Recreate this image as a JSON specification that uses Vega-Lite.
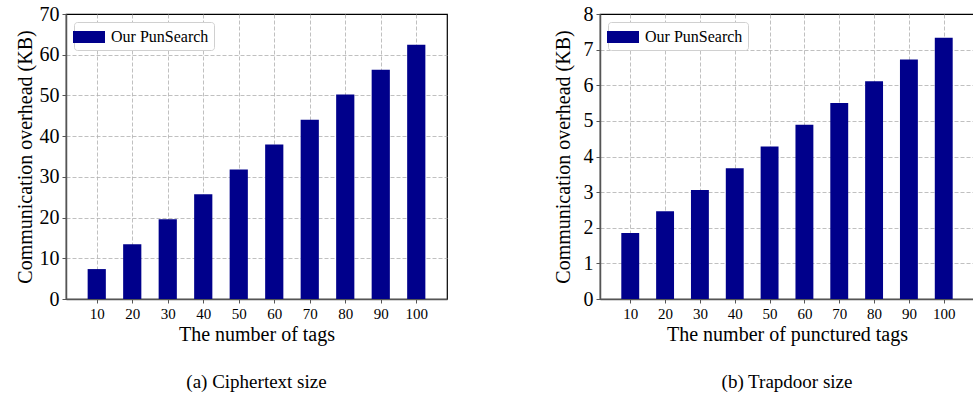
{
  "$schema": "https://vega.github.io/schema/vega-lite/v6.json",
  "background": "white",
  "padding": {"left": 14, "top": 3, "right": 1, "bottom": 0},
  "spacing": 104,
  "config": {
    "font": "Liberation Serif",
    "view": {"stroke": "#000000", "strokeWidth": 1.2},
    "axis": {
      "labelFont": "Liberation Serif",
      "titleFont": "Liberation Serif",
      "labelFontSize": 15,
      "titleFontSize": 20,
      "titleFontWeight": "normal",
      "labelColor": "#000000",
      "titleColor": "#000000",
      "domainColor": "#555555",
      "domainWidth": 1.5,
      "tickColor": "#555555",
      "tickSize": 4,
      "labelPadding": 3,
      "gridColor": "#b0b0b0",
      "gridDash": [4, 2],
      "gridWidth": 0.8,
      "zindex": 1
    },
    "axisY": {"labelFontSize": 20},
    "legend": {
      "labelFont": "Liberation Serif",
      "labelFontSize": 16,
      "labelColor": "#000000"
    },
    "title": {"font": "Liberation Serif", "fontSize": 19, "fontWeight": "normal", "color": "#000000"}
  },
  "hconcat": [
    {
      "width": 381,
      "height": 285,
      "title": {"text": "(a) Ciphertext size", "orient": "bottom", "offset": 29},
      "data": {"values": [
        {"tags": 10, "kb": 7.35, "series": "Our PunSearch"},
        {"tags": 20, "kb": 13.45, "series": "Our PunSearch"},
        {"tags": 30, "kb": 19.6, "series": "Our PunSearch"},
        {"tags": 40, "kb": 25.7, "series": "Our PunSearch"},
        {"tags": 50, "kb": 31.8, "series": "Our PunSearch"},
        {"tags": 60, "kb": 37.95, "series": "Our PunSearch"},
        {"tags": 70, "kb": 44.05, "series": "Our PunSearch"},
        {"tags": 80, "kb": 50.2, "series": "Our PunSearch"},
        {"tags": 90, "kb": 56.3, "series": "Our PunSearch"},
        {"tags": 100, "kb": 62.45, "series": "Our PunSearch"}
      ]},
      "mark": {"type": "bar", "size": 18.2},
      "encoding": {
        "x": {"field": "tags", "type": "quantitative", "scale": {"domain": [2.75, 107.25], "nice": false, "zero": false},
              "axis": {"values": [10, 20, 30, 40, 50, 60, 70, 80, 90, 100], "title": "The number of tags", "titlePadding": 3}},
        "y": {"field": "kb", "type": "quantitative", "scale": {"domain": [0, 70], "nice": false},
              "axis": {"values": [0, 10, 20, 30, 40, 50, 60, 70], "title": "Communication overhead (KB)", "titlePadding": 4,
                       "gridOpacity": {"condition": {"test": "datum.value === 70", "value": 0}, "value": 1}}},
        "color": {"field": "series", "type": "nominal", "scale": {"range": ["#00008b"]},
                  "legend": {"title": null, "orient": "top-left", "offset": 8, "padding": 5, "strokeColor": "#d0d0d0", "fillColor": "white", "cornerRadius": 3,
                             "symbolType": "M-1.6,-0.6L1.6,-0.6L1.6,0.6L-1.6,0.6Z", "symbolSize": 400, "symbolStrokeWidth": 0, "labelOffset": 12}}
      }
    },
    {
      "width": 374,
      "height": 285,
      "title": {"text": "(b) Trapdoor size", "orient": "bottom", "offset": 29},
      "data": {"values": [
        {"tags": 10, "kb": 1.85, "series": "Our PunSearch"},
        {"tags": 20, "kb": 2.46, "series": "Our PunSearch"},
        {"tags": 30, "kb": 3.06, "series": "Our PunSearch"},
        {"tags": 40, "kb": 3.67, "series": "Our PunSearch"},
        {"tags": 50, "kb": 4.28, "series": "Our PunSearch"},
        {"tags": 60, "kb": 4.89, "series": "Our PunSearch"},
        {"tags": 70, "kb": 5.5, "series": "Our PunSearch"},
        {"tags": 80, "kb": 6.11, "series": "Our PunSearch"},
        {"tags": 90, "kb": 6.72, "series": "Our PunSearch"},
        {"tags": 100, "kb": 7.33, "series": "Our PunSearch"}
      ]},
      "mark": {"type": "bar", "size": 17.9},
      "encoding": {
        "x": {"field": "tags", "type": "quantitative", "scale": {"domain": [2.75, 107.25], "nice": false, "zero": false},
              "axis": {"values": [10, 20, 30, 40, 50, 60, 70, 80, 90, 100], "title": "The number of punctured tags", "titlePadding": 3}},
        "y": {"field": "kb", "type": "quantitative", "scale": {"domain": [0, 8], "nice": false},
              "axis": {"values": [0, 1, 2, 3, 4, 5, 6, 7, 8], "title": "Communication overhead (KB)", "titlePadding": 10,
                       "gridOpacity": {"condition": {"test": "datum.value === 8", "value": 0}, "value": 1}}},
        "color": {"field": "series", "type": "nominal", "scale": {"range": ["#00008b"]},
                  "legend": {"title": null, "orient": "top-left", "offset": 8, "padding": 5, "strokeColor": "#d0d0d0", "fillColor": "white", "cornerRadius": 3,
                             "symbolType": "M-1.6,-0.6L1.6,-0.6L1.6,0.6L-1.6,0.6Z", "symbolSize": 400, "symbolStrokeWidth": 0, "labelOffset": 12}}
      }
    }
  ],
  "resolve": {"scale": {"color": "independent"}, "legend": {"color": "independent"}}
}
